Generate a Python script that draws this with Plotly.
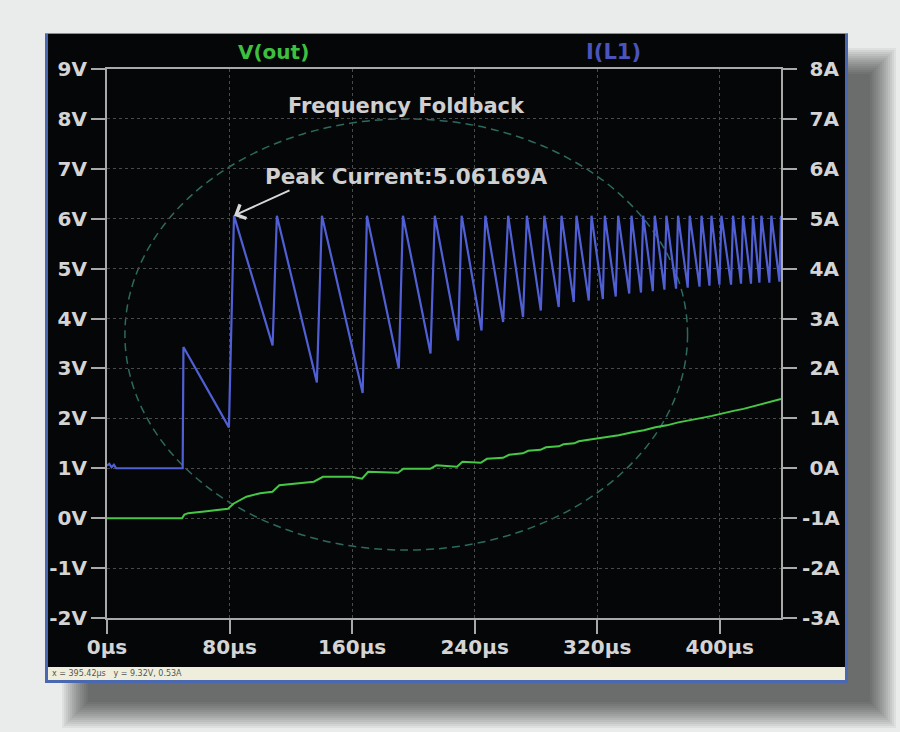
import plotly.graph_objects as go

# ---------------- data ----------------
x_tick_values = [0, 80, 160, 240, 320, 400]
x_tick_labels = ["0µs", "80µs", "160µs", "240µs", "320µs", "400µs"]
v_tick_values = [-2, -1, 0, 1, 2, 3, 4, 5, 6, 7, 8, 9]
v_tick_labels = ["-2V", "-1V", "0V", "1V", "2V", "3V", "4V", "5V", "6V", "7V", "8V", "9V"]
a_tick_values = [-3, -2, -1, 0, 1, 2, 3, 4, 5, 6, 7, 8]
a_tick_labels = ["-3A", "-2A", "-1A", "0A", "1A", "2A", "3A", "4A", "5A", "6A", "7A", "8A"]

# V(out) in volts vs time in µs
vout_time = [0, 49.0, 50.5, 53, 65, 79.0, 82.5, 91, 100, 108.0,
             112.5, 125, 135, 141.0, 160, 166.5, 170.5, 190.0, 193.5, 211,
             215, 228.5, 232, 244, 248, 258.5, 262.5, 271.5, 275, 283,
             286.5, 295, 298, 305, 308, 316.5, 325.5, 334, 343, 350.5,
             358, 365.5, 373, 381, 388.5, 395, 401.5, 409, 415.5, 422,
             427.5, 434, 440]
vout_volts = [0, 0, 0.07, 0.10, 0.14, 0.19, 0.29, 0.43, 0.50, 0.53,
              0.66, 0.70, 0.73, 0.83, 0.83, 0.79, 0.93, 0.91, 0.99, 0.99,
              1.06, 1.03, 1.13, 1.11, 1.19, 1.21, 1.27, 1.30, 1.35, 1.37,
              1.42, 1.44, 1.48, 1.50, 1.54, 1.58, 1.62, 1.66, 1.72, 1.76,
              1.82, 1.86, 1.92, 1.96, 2.01, 2.05, 2.10, 2.15, 2.19, 2.24,
              2.28, 2.33, 2.39]

# I(L1) in amps vs time in µs (waveform vertices)
il1_time = [0, 1.5, 3, 4.5, 6, 8, 49.4, 49.9, 79.6, 82.9,
            108.1, 110.9, 137.0, 140.3, 166.9, 169.7, 190.5, 193.2, 211.2, 214.0,
            229.2, 231.5, 244.5, 247.0, 258.6, 261.9, 271.6, 274.1, 283.2, 285.5,
            294.9, 296.7, 304.7, 306.5, 314.5, 316.3, 323.7, 325.0, 332.1, 333.7,
            340.9, 342.4, 348.6, 350.0, 356.3, 357.6, 363.9, 365.2, 371.5, 372.8,
            379.1, 380.4, 386.8, 388.1, 393.3, 394.6, 399.8, 401.1, 407.4, 408.7,
            413.9, 415.2, 420.4, 421.7, 425.9, 427.2, 432.4, 433.7, 439.0, 440.0]
il1_amps = [0.05, 0.09, 0.02, 0.07, 0.0, 0.0, 0.0, 2.43, 0.82, 5.06169,
            2.46, 5.06, 1.72, 5.06, 1.51, 5.06, 2.00, 5.06, 2.30, 5.06,
            2.56, 5.06, 2.76, 5.06, 2.93, 5.06, 3.03, 5.06, 3.16, 5.06,
            3.23, 5.06, 3.33, 5.06, 3.36, 5.06, 3.39, 5.06, 3.44, 5.06,
            3.50, 5.06, 3.52, 5.06, 3.55, 5.06, 3.58, 5.06, 3.60, 5.06,
            3.62, 5.06, 3.64, 5.06, 3.66, 5.06, 3.68, 5.06, 3.68, 5.06,
            3.70, 5.06, 3.70, 5.06, 3.72, 5.06, 3.72, 5.06, 3.74, 5.06]

peak_index = 9
peak_current = il1_amps[peak_index]

# foldback ellipse extent (data units: µs, V)
ellipse_time = [11.7, 379.0]
ellipse_volts = [-0.64, 8.0]

# ---------------- style ----------------
FONT = "DejaVu Sans"
GREEN = "#46c846"
BLUE = "#5060d4"
LABEL = "#d4d4d4"
AXIS = "#a9a9a9"
GRID = "#4a4a4a"
BG = "#eaeceb"

# plot area in pixels (900x732 canvas)
L, R, T, B = 107, 781, 69, 618
W, H = 900, 732


def px_x(px):
    return (px - L) / (R - L)


def px_y(py):
    return (B - py) / (B - T)


# right-hand labels are right-aligned in the original: pad the ones without a sign
a_tick_text = [t if t.startswith("-") else "\u2008" + t for t in a_tick_labels]

fig = go.Figure()
fig.add_trace(go.Scatter(x=vout_time, y=vout_volts, mode="lines", name="V(out)",
                         line=dict(color=GREEN, width=2), yaxis="y"))
fig.add_trace(go.Scatter(x=il1_time, y=il1_amps, mode="lines", name="I(L1)",
                         line=dict(color=BLUE, width=2.2), yaxis="y2"))

tickfont = dict(family=FONT, size=20, color=LABEL, weight="bold")

shapes = []
# soft drop shadow
for i in range(14):
    shapes.append(dict(type="rect", xref="paper", yref="paper", layer="below",
                       x0=px_x(62 + 2 * i), x1=px_x(896 - 2 * i),
                       y0=px_y(728 - 2 * i), y1=px_y(48 + 2 * i),
                       fillcolor="rgba(0,0,0,0.05)", line=dict(width=0)))
# window frame
shapes.append(dict(type="rect", xref="paper", yref="paper", layer="below",
                   x0=px_x(45), x1=px_x(848), y0=px_y(683), y1=px_y(33),
                   fillcolor="#4a68b0", line=dict(width=0)))
shapes.append(dict(type="rect", xref="paper", yref="paper", layer="below",
                   x0=px_x(48), x1=px_x(845), y0=px_y(667), y1=px_y(33),
                   fillcolor="#050607", line=dict(width=0)))
shapes.append(dict(type="rect", xref="paper", yref="paper", layer="below",
                   x0=px_x(48), x1=px_x(845), y0=px_y(680), y1=px_y(667),
                   fillcolor="#efeedc", line=dict(width=0)))
shapes.append(dict(type="line", xref="paper", yref="paper", layer="below",
                   x0=px_x(45), x1=px_x(848), y0=px_y(33.5), y1=px_y(33.5),
                   line=dict(color="#8a8f96", width=1)))
# foldback ellipse
shapes.append(dict(type="circle", xref="x", yref="y", layer="below",
                   x0=ellipse_time[0], x1=ellipse_time[1],
                   y0=ellipse_volts[0], y1=ellipse_volts[1],
                   line=dict(color="#2d6a5e", width=1.5, dash="8px,5px")))

annotations = [
    dict(text="V(out)", xref="paper", yref="paper", x=px_x(273), y=px_y(52),
         xanchor="center", yanchor="middle", showarrow=False,
         font=dict(family=FONT, size=20, color="#3fbf3f", weight="bold")),
    dict(text="I(L1)", xref="paper", yref="paper", x=px_x(613), y=px_y(52),
         xanchor="center", yanchor="middle", showarrow=False,
         font=dict(family=FONT, size=21, color="#4a54bc", weight="bold")),
    dict(text="Frequency Foldback", xref="x", yref="y", x=195.8, y=8.26,
         xanchor="center", yanchor="middle", showarrow=False,
         font=dict(family=FONT, size=21, color="#cfcfcf", weight="bold")),
    dict(text=f"Peak Current:{peak_current:.5f}A", xref="x", yref="y", x=195.5, y=6.84,
         xanchor="center", yanchor="middle", showarrow=False,
         font=dict(family=FONT, size=21.5, color="#cfcfcf", weight="bold")),
    dict(text="", xref="x", yref="y2", x=il1_time[peak_index], y=peak_current,
         ax=57, ay=-26, showarrow=True, arrowhead=4, arrowsize=1.5, arrowwidth=2,
         arrowcolor="#d8d8d8"),
    dict(text="x = 395.42µs   y = 9.32V, 0.53A", xref="paper", yref="paper",
         x=px_x(50), y=px_y(673.5), xanchor="left", yanchor="middle", showarrow=False,
         font=dict(family=FONT, size=8, color="#555555")),
]

fig.update_layout(
    width=W, height=H,
    margin=dict(l=L, r=W - R, t=T, b=H - B, autoexpand=False),
    paper_bgcolor=BG,
    plot_bgcolor="#050607",
    showlegend=False,
    shapes=shapes,
    annotations=annotations,
    xaxis=dict(range=[0, 440], tickvals=x_tick_values, ticktext=x_tick_labels,
               showgrid=True, gridcolor=GRID, griddash="dot", gridwidth=1,
               zeroline=False, showline=True, linecolor=AXIS, linewidth=2, mirror=True,
               ticks="outside", ticklen=14, tickwidth=2, tickcolor=AXIS,
               tickfont=tickfont, ticklabelstandoff=-4),
    yaxis=dict(range=[-2, 9], tickvals=v_tick_values, ticktext=v_tick_labels,
               showgrid=True, gridcolor=GRID, griddash="dot", gridwidth=1,
               zeroline=False, showline=True, linecolor=AXIS, linewidth=2,
               ticks="outside", ticklen=14, tickwidth=2, tickcolor=AXIS,
               tickfont=tickfont),
    yaxis2=dict(range=[-3, 8], tickvals=a_tick_values, ticktext=a_tick_text,
                overlaying="y", side="right", showgrid=False, zeroline=False,
                showline=True, linecolor=AXIS, linewidth=2,
                ticks="outside", ticklen=14, tickwidth=2, tickcolor=AXIS,
                tickfont=tickfont, ticklabelstandoff=1),
)

fig.write_html("out.html",
               config={"displayModeBar": False},
               post_script="document.body.style.margin='0';"
                           "document.body.style.background='" + BG + "';")
